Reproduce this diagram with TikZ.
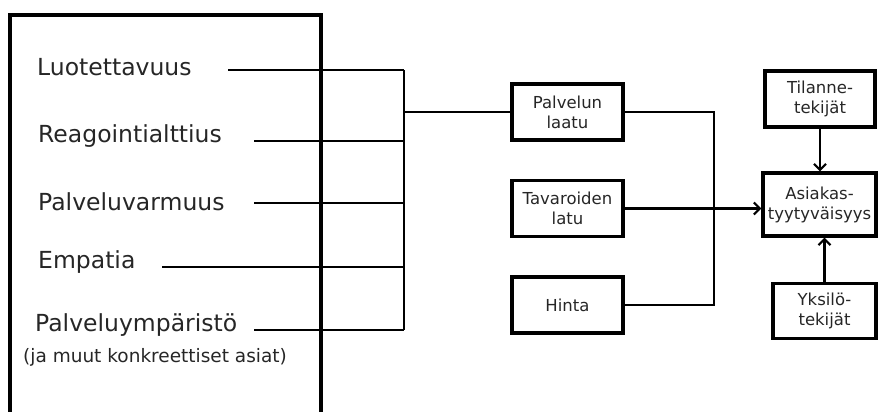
\documentclass[tikz,border=0pt]{standalone}
\usepackage{fontspec}
\setmainfont{DejaVu Sans}
\usetikzlibrary{arrows.meta}

\begin{document}
\begin{tikzpicture}[
    x=1pt, y=-1pt,
    every node/.style={text=black!85},
    factor/.style={inner sep=0pt, anchor=base west, font=\fontsize{23.5}{26}\selectfont},
    note/.style={inner sep=0pt, anchor=base west, font=\fontsize{18.5}{21}\selectfont},
    box/.style={draw, line width=3.2pt, rectangle, align=center, inner sep=0pt,
        font=\fontsize{16.5}{20}\selectfont},
    link/.style={line width=2.2pt},
    arrow/.style={link, -{Straight Barb[length=6pt, width=12pt]}}
]
    \clip (0,0) rectangle (878,412);

    % dimensions of service quality
    \draw[line width=3.4pt] (10,15) rectangle (321,440);
    \node[factor] (luot) at (37,76) {Luotettavuus};
    \node[factor] (reag) at (38,142) {Reagointialttius};
    \node[factor] (varm) at (38,210) {Palveluvarmuus};
    \node[factor] (emp) at (38,268) {Empatia};
    \node[factor] (ymp) at (35,331) {Palveluympäristö};
    \node[note] (konk) at (23,362) {(ja muut konkreettiset asiat)};

    \coordinate (l1) at (228,70);
    \coordinate (l2) at (254,141);
    \coordinate (l3) at (254,203);
    \coordinate (l4) at (162,267);
    \coordinate (l5) at (254,330);
    \coordinate (bus) at (404,0);

    % middle column
    \node[box, minimum width=111pt, minimum height=56pt] (palvelun) at (567.5,112) {Palvelun\\laatu};
    \node[box, minimum width=111pt, minimum height=56pt] (tavarat) at (567.5,208.5) {Tavaroiden\\latu};
    \node[box, minimum width=111pt, minimum height=56pt] (hinta) at (567.5,305) {Hinta};
    \coordinate (join) at (714,0);

    % right column
    \node[box, minimum width=110pt, minimum height=56pt] (tilanne) at (820,99) {Tilanne-\\tekijät};
    \node[box, minimum width=113pt, minimum height=63pt] (asiakas) at (819.5,204.5) {Asiakas-\\tyytyväisyys};
    \node[box, minimum width=103pt, minimum height=55pt] (yksilo) at (824.5,311) {Yksilö-\\tekijät};

    \foreach \s in {l1,l2,l3,l4,l5}
        \draw[link] (\s) -- (\s -| bus);
    \draw[link] (l1 -| bus) -- (l5 -| bus);
    \draw[link] (palvelun.west -| bus) -- (palvelun.west);

    \draw[link] (palvelun.east) -- (palvelun.east -| join) -- (hinta.east -| join) -- (hinta.east);
    \draw[arrow] (tavarat.east) -- (tavarat.east -| asiakas.west);
    \draw[arrow] (tilanne.south) -- (tilanne.south |- asiakas.north);
    \draw[arrow] (yksilo.north) -- (yksilo.north |- asiakas.south);
\end{tikzpicture}
\end{document}
